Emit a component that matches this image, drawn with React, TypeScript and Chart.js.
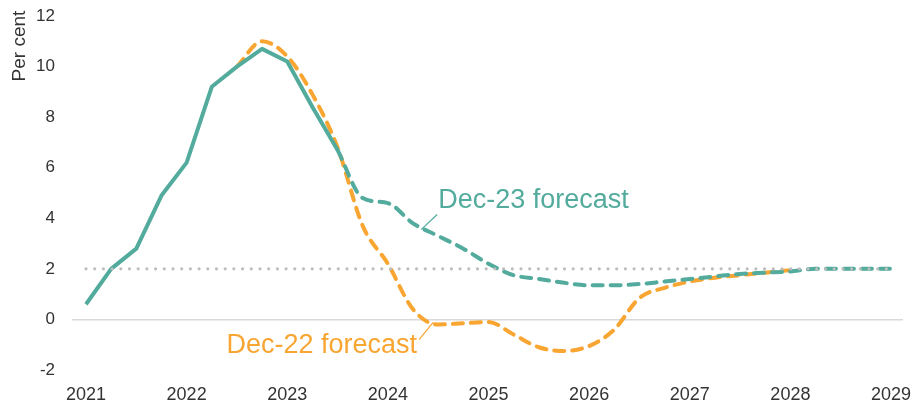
import React, { useEffect, useRef } from "react";
import { Chart, registerables } from "chart.js";

Chart.register(...registerables);

// ---- Data ----
const actualQuarters = [
  "2021 Q1", "2021 Q2", "2021 Q3", "2021 Q4",
  "2022 Q1", "2022 Q2", "2022 Q3", "2022 Q4",
  "2023 Q1", "2023 Q2", "2023 Q3",
];
const actualValues = [0.6, 2.0, 2.8, 4.9, 6.2, 9.2, 10.0, 10.7, 10.2, 8.4, 6.7];

const dec23Quarters = [
  "2023 Q3", "2023 Q4",
  "2024 Q1", "2024 Q2", "2024 Q3", "2024 Q4",
  "2025 Q1", "2025 Q2", "2025 Q3", "2025 Q4",
  "2026 Q1", "2026 Q2", "2026 Q3", "2026 Q4",
  "2027 Q1", "2027 Q2", "2027 Q3", "2027 Q4",
  "2028 Q1", "2028 Q2", "2028 Q3", "2028 Q4",
  "2029 Q1",
];
const dec23Values = [
  6.7, 4.8, 4.6, 3.8, 3.3, 2.8, 2.2, 1.75, 1.6, 1.45, 1.35, 1.35, 1.4, 1.5,
  1.6, 1.7, 1.8, 1.85, 1.9, 2.0, 2.0, 2.0, 2.0,
];

const dec22Quarters = [
  "2022 Q3", "2022 Q4",
  "2023 Q1", "2023 Q2", "2023 Q3", "2023 Q4",
  "2024 Q1", "2024 Q2", "2024 Q3", "2024 Q4",
  "2025 Q1", "2025 Q2", "2025 Q3", "2025 Q4",
  "2026 Q1", "2026 Q2", "2026 Q3", "2026 Q4",
  "2027 Q1", "2027 Q2", "2027 Q3", "2027 Q4",
  "2028 Q1",
];
const dec22Values = [
  10.0, 11.0, 10.4, 8.9, 6.8, 3.7, 2.2, 0.4, -0.2, -0.15, -0.1, -0.6, -1.1,
  -1.25, -1.05, -0.4, 0.85, 1.25, 1.5, 1.65, 1.75, 1.85, 1.95,
];

const targetValue = 2;
const targetSpan = [2021, 2029];
const yearTicks = [2021, 2022, 2023, 2024, 2025, 2026, 2027, 2028, 2029];
const yTicks = [-2, 0, 2, 4, 6, 8, 10, 12];

const TEAL = "#52ab9c";
const ORANGE = "#f8a531";
const TEXT = "#333333";
const FONT = "'Liberation Sans', Arial, Helvetica, sans-serif";

const qToX = (q: string) => {
  const [y, qq] = q.split(" Q");
  return Number(y) + (Number(qq) - 1) / 4;
};
const toPoints = (qs: string[], vs: number[]) =>
  qs.map((q, i) => ({ x: qToX(q), y: vs[i] }));

// annotation anchors in data units
const labels = [
  {
    text: "Dec-23 forecast",
    color: TEAL,
    x: 2024.5,
    y: 4.4,
    align: "left" as CanvasTextAlign,
    leader: [[2024.33, 3.55], [2024.49, 4.15]],
  },
  {
    text: "Dec-22 forecast",
    color: ORANGE,
    x: 2024.29,
    y: -1.31,
    align: "right" as CanvasTextAlign,
    leader: [[2024.31, -0.8], [2024.45, -0.12]],
  },
];

const annotationPlugin = {
  id: "annots",
  afterDatasetsDraw(chart: any) {
    const { ctx, scales, chartArea } = chart;
    const xs = scales.x;
    const ys = scales.y;
    ctx.save();
    labels.forEach((l) => {
      ctx.strokeStyle = l.color;
      ctx.lineWidth = 1.2;
      ctx.beginPath();
      ctx.moveTo(xs.getPixelForValue(l.leader[0][0]), ys.getPixelForValue(l.leader[0][1]));
      ctx.lineTo(xs.getPixelForValue(l.leader[1][0]), ys.getPixelForValue(l.leader[1][1]));
      ctx.stroke();
      ctx.fillStyle = l.color;
      ctx.font = `27px ${FONT}`;
      ctx.textAlign = l.align;
      ctx.textBaseline = "alphabetic";
      ctx.fillText(l.text, xs.getPixelForValue(l.x), ys.getPixelForValue(l.y));
    });
    // y axis title
    ctx.translate(chartArea.left - 52, chartArea.top + 30);
    ctx.rotate(-Math.PI / 2);
    ctx.fillStyle = TEXT;
    ctx.font = `19px ${FONT}`;
    ctx.textAlign = "center";
    ctx.textBaseline = "middle";
    ctx.fillText("Per cent", 0, 0);
    ctx.restore();
  },
};

export default function App() {
  const ref = useRef<HTMLCanvasElement | null>(null);

  useEffect(() => {
    document.body.style.margin = "0";
    if (!ref.current) return;
    const chart = new Chart(ref.current, {
      type: "line",
      data: {
        datasets: [
          {
            label: "Target",
            data: targetSpan.map((x) => ({ x, y: targetValue })),
            borderColor: "#bdbdbd",
            borderWidth: 3.2,
            borderDash: [0, 8.7],
            borderCapStyle: "round",
            pointRadius: 0,
            fill: false,
          },
          {
            label: "Actual",
            data: toPoints(actualQuarters, actualValues),
            borderColor: TEAL,
            borderWidth: 4,
            pointRadius: 0,
            tension: 0,
            borderJoinStyle: "round",
            fill: false,
          },
          {
            label: "Dec-23 forecast",
            data: toPoints(dec23Quarters, dec23Values),
            borderColor: TEAL,
            borderWidth: 4,
            borderDash: [10, 8],
            borderCapStyle: "round",
            pointRadius: 0,
            cubicInterpolationMode: "monotone",
            fill: false,
          },
          {
            label: "Dec-22 forecast",
            data: toPoints(dec22Quarters, dec22Values),
            borderColor: ORANGE,
            borderWidth: 4,
            borderDash: [10, 8],
            borderCapStyle: "round",
            pointRadius: 0,
            cubicInterpolationMode: "monotone",
            fill: false,
          },
        ],
      },
      options: {
        responsive: false,
        animation: false,
        devicePixelRatio: 1,
        layout: { padding: { top: 16, right: 16, left: 0, bottom: 0 } },
        plugins: {
          legend: { display: false },
          tooltip: { enabled: false },
          title: { display: false },
        },
        scales: {
          x: {
            type: "linear",
            min: 2020.861,
            max: 2029.119,
            afterBuildTicks: (scale: any) => {
              scale.ticks = yearTicks.map((v) => ({ value: v }));
            },
            afterFit: (scale: any) => {
              scale.height = 33;
              scale.paddingLeft = 0;
              scale.paddingRight = 0;
            },
            grid: { display: false, drawTicks: false },
            border: { display: false },
            ticks: {
              color: TEXT,
              font: { size: 18, family: FONT },
              padding: 14,
              maxRotation: 0,
              autoSkip: false,
              callback: (v: any) => String(v),
            },
          },
          y: {
            min: -2,
            max: 12,
            afterBuildTicks: (scale: any) => {
              scale.ticks = yTicks.map((v) => ({ value: v }));
            },
            afterFit: (scale: any) => {
              scale.width = 72;
              scale.paddingTop = 0;
              scale.paddingBottom = 0;
            },
            grid: {
              drawTicks: false,
              lineWidth: 1.5,
              color: (c: any) => (c.tick && c.tick.value === 0 ? "#d9d9d9" : "rgba(0,0,0,0)"),
            },
            border: { display: false },
            ticks: {
              color: TEXT,
              font: { size: 17, family: FONT },
              padding: 17,
              callback: (v: any) => String(v),
            },
          },
        },
      },
      plugins: [annotationPlugin],
    });
    return () => chart.destroy();
  }, []);

  return (
    <div style={{ width: 919, height: 403 }}>
      <canvas ref={ref} width={919} height={403} />
    </div>
  );
}
